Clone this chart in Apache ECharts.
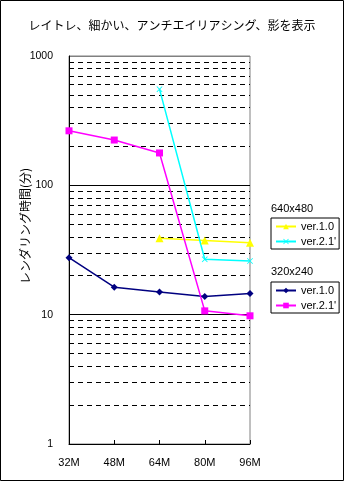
<!DOCTYPE html>
<html>
<head>
<meta charset="utf-8">
<script src="https://cdn.jsdelivr.net/npm/echarts@6/dist/echarts.min.js"></script>
<style>
  html, body { margin: 0; padding: 0; background: #fff; }
  #chart { width: 344px; height: 481px; }
</style>
</head>
<body>
<div id="chart"></div>
<script>
// Memory sizes on the x axis
const categories = ['32M', '48M', '64M', '80M', '96M'];

// Rendering time in minutes, 640x480
const hi_v10 = [null, null, 39, 37.4, 36];
const hi_v21 = [null, null, 554, 26.8, 26.0];

// Rendering time in minutes, 320x240
const lo_v10 = [27.6, 16.3, 15.0, 13.8, 14.6];
const lo_v21 = [264, 224, 178, 10.7, 9.8];

// Dashed minor gridlines within each decade
const minorLines = [2, 3, 4, 5, 6, 7, 8, 9, 20, 30, 40, 50, 60, 70, 80, 90,
                    200, 300, 400, 500, 600, 700, 800, 900];

const font = '"Liberation Sans", Arial, sans-serif';
const jpFont = '"Noto Sans CJK JP", sans-serif';

// Small "x" marker drawn as a filled outline
const crossPath = 'path://M0,1 L1,0 L5,4 L9,0 L10,1 L6,5 L10,9 L9,10 L5,6 L1,10 L0,9 L4,5 Z';

const chart = echarts.init(document.getElementById('chart'), null, { renderer: 'canvas' });

function line(name, data, color, symbol, size) {
  return {
    name: name,
    type: 'line',
    data: data,
    connectNulls: false,
    symbol: symbol,
    symbolSize: size,
    showAllSymbol: true,
    lineStyle: { color: color, width: 1.5 },
    itemStyle: { color: color },
    emphasis: { disabled: true },
    z: 5
  };
}

const series = [
  line('640x480 ver.1.0', hi_v10, '#FFFF00', 'triangle', 8),
  line("640x480 ver.2.1'", hi_v21, '#00FFFF', crossPath, 6),
  line('320x240 ver.1.0', lo_v10, '#000080', 'diamond', 7),
  line("320x240 ver.2.1'", lo_v21, '#FF00FF', 'rect', 7)
];

// Minor gridlines hang off an empty series so they follow the log scale
series.unshift({
  name: 'grid-minor',
  type: 'line',
  data: [],
  silent: true,
  z: 1,
  markLine: {
    silent: true,
    symbol: ['none', 'none'],
    label: { show: false },
    lineStyle: { color: '#000', width: 1, type: [5, 4] },
    emphasis: { disabled: true },
    animation: false,
    data: minorLines.map(v => ({ yAxis: v }))
  }
});

const legendCommon = {
  orient: 'vertical',
  left: 271,
  width: 66,
  borderColor: '#000',
  borderWidth: 1,
  borderRadius: 0,
  padding: [3, 3, 2, 4],
  itemWidth: 20,
  itemHeight: 7,
  itemGap: 4,
  selectedMode: false,
  textStyle: { fontFamily: font, fontSize: 11, color: '#000', lineHeight: 11 },
  formatter: name => name.split(' ')[1]
};

chart.setOption({
  animation: false,
  backgroundColor: '#fff',
  title: {
    text: 'レイトレ、細かい、アンチエイリアシング、影を表示',
    left: 'center',
    top: 14,
    textStyle: { fontFamily: jpFont, fontSize: 12, fontWeight: 'normal', color: '#000' }
  },
  grid: {
    left: 69, right: 94, top: 56, bottom: 37,
    show: true, borderColor: '#808080', borderWidth: 1, backgroundColor: '#fff'
  },
  legend: [
    Object.assign({}, legendCommon, { top: 218, data: ['640x480 ver.1.0', "640x480 ver.2.1'"] }),
    Object.assign({}, legendCommon, { top: 282, data: ['320x240 ver.1.0', "320x240 ver.2.1'"] })
  ],
  xAxis: {
    type: 'category',
    data: categories,
    boundaryGap: false,
    axisLine: { lineStyle: { color: '#000', width: 1 } },
    axisTick: { show: true, inside: true, length: 4, lineStyle: { color: '#000' } },
    axisLabel: { fontFamily: font, fontSize: 11, color: '#000', margin: 13 },
    splitLine: { show: false }
  },
  yAxis: {
    type: 'log',
    logBase: 10,
    min: 1,
    max: 1000,
    axisLine: { show: true, lineStyle: { color: '#000', width: 1 } },
    axisTick: { show: false },
    axisLabel: {
      fontFamily: font, fontSize: 10.5, color: '#000', margin: 16,
      formatter: v => String(Math.round(v))
    },
    splitLine: { show: true, lineStyle: { color: ['#000', '#000', '#000', '#808080'], width: 1 } },
    minorTick: { show: false },
    minorSplitLine: { show: false }
  },
  graphic: [
    {
      type: 'text',
      x: 25, y: 226,
      rotation: Math.PI / 2,
      style: {
        text: 'レンダリング時間(分)',
        fontFamily: jpFont, fontSize: 12, fill: '#000',
        textAlign: 'center', textVerticalAlign: 'middle'
      }
    },
    {
      type: 'text', x: 271, y: 209,
      style: { text: '640x480', fontFamily: font, fontSize: 11, fill: '#000', textVerticalAlign: 'middle' }
    },
    {
      type: 'text', x: 271, y: 272,
      style: { text: '320x240', fontFamily: font, fontSize: 11, fill: '#000', textVerticalAlign: 'middle' }
    },
    {
      type: 'rect',
      shape: { x: 0.5, y: 0.5, width: 343, height: 480 },
      style: { fill: 'none', stroke: '#000', lineWidth: 1 },
      z: 100
    }
  ],
  series: series
});
</script>
</body>
</html>
